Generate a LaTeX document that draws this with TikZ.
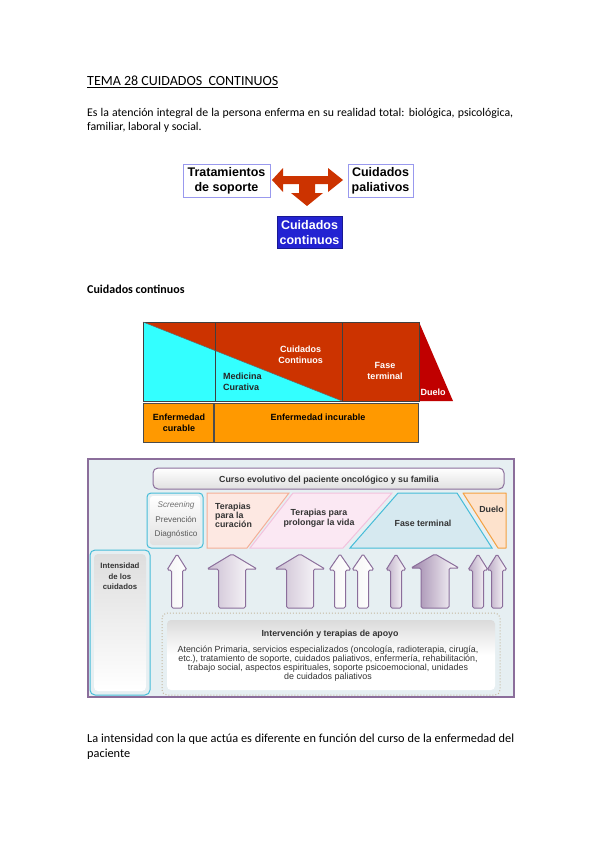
\documentclass[tikz,border=0pt]{standalone}
\usepackage{fontspec}
\setmainfont{Carlito}
\newfontfamily\arialf{Liberation Sans}
\definecolor{redA}{HTML}{CC3300}
\definecolor{boxB}{HTML}{9999EE}
\definecolor{blueC}{HTML}{2323D2}
\definecolor{cyanA}{HTML}{33FFFF}
\definecolor{duelA}{HTML}{C00000}
\definecolor{orA}{HTML}{FF9900}
\definecolor{bgF}{HTML}{E6EFF2}
\definecolor{purF}{HTML}{8B6E9B}
\definecolor{cyF}{HTML}{45BCD8}
\definecolor{salB}{HTML}{F5AE96}
\definecolor{salF}{HTML}{FDE8E2}
\definecolor{pinB}{HTML}{F3C1DD}
\definecolor{pinF}{HTML}{FBE8F3}
\definecolor{ftF}{HTML}{D6E9F0}
\definecolor{duB}{HTML}{F4A040}
\definecolor{duF}{HTML}{FDE2CC}
\definecolor{dotB}{HTML}{C4B79E}
\definecolor{txG}{HTML}{333333}
\tikzset{
  body/.style={font=\fontsize{11.8}{14}\selectfont, inner sep=0pt, anchor=base west},
  fa/.style={font=\arialf\bfseries\fontsize{12.5}{15}\selectfont, inner sep=0pt, align=center},
  fb/.style={font=\arialf\bfseries\fontsize{9}{11}\selectfont, inner sep=0pt, align=center},
  fcb/.style={font=\arialf\bfseries\fontsize{8.8}{9.2}\selectfont, inner sep=0pt, text=txG},
  fcr/.style={font=\arialf\fontsize{8.9}{9.3}\selectfont, inner sep=0pt, text=txG},
  arrw/.style={draw=purF, line width=1pt, rounded corners=1.5pt},
}
\newcommand{\uparrw}[6]{%
  \path[arrw, left color=#6, right color=white]
    (#1,554) -- (#1+#2,#4) -- (#1+#3,#4) -- (#1+#3,608) -- (#1-#3,608)
    -- (#1-#3,#4) -- (#1-#2,#4) -- cycle;}
\begin{document}
\begin{tikzpicture}[x=1pt,y=-1pt]
\path[fill=white] (0,0) rectangle (599,848);
\useasboundingbox (0,0) rectangle (599,848);

% ---------- text ----------
\node[body, font=\fontsize{14}{16}\selectfont] (title) at (87,86) {\underline{TEMA 28 CUIDADOS\ \ CONTINUOS}};
\node[body] (intro1) at (87,117) {\makebox[426pt][s]{Es la atención integral de la persona enferma en su realidad total: biológica, psicológica,}};
\node[body] (intro2) at (87,131) {familiar, laboral y social.};
\node[body, font=\bfseries\fontsize{12}{14}\selectfont] (sub) at (87,293) {Cuidados continuos};
\node[body, font=\fontsize{12.3}{15}\selectfont] (outro1) at (87,742) {\makebox[427pt][s]{La intensidad con la que actúa es diferente en función del curso de la enfermedad del}};
\node[body, font=\fontsize{12.3}{15}\selectfont] (outro2) at (87,757) {paciente};

% ---------- figure 1 ----------
\node[draw=boxB, line width=0.8pt, minimum width=87pt, minimum height=33pt, inner sep=0pt] (trat) at (226.5,180.5) {};
\node[fa] (tratT) at (trat.center) {Tratamientos\\de soporte};
\node[draw=boxB, line width=0.8pt, minimum width=65pt, minimum height=33pt, inner sep=0pt] (pal) at (380.5,180.5) {};
\node[fa] (palT) at (pal.center) {Cuidados\\paliativos};
\node[fill=blueC, draw=blueC!70!black, line width=0.6pt, minimum width=65pt, minimum height=32pt, inner sep=0pt] (cc) at (309.5,232.5) {};
\node[fa, text=white] (ccT) at (cc.center) {Cuidados\\continuos};
\fill[redA] (272,180) -- (283,168) -- (283,176) -- (328,176) -- (328,168) -- (343,180)
  -- (328,192) -- (328,184) -- (315,184) -- (315,193) -- (323,193) -- (307,206)
  -- (291,193) -- (299,193) -- (299,184) -- (283,184) -- (283,192) -- cycle;

% ---------- figure 2 ----------
\fill[redA] (143,322) rectangle (419,401);
\fill[cyanA] (143,322) -- (342,401) -- (143,401) -- cycle;
\fill[duelA] (419,322) -- (453,401) -- (419,401) -- cycle;
\draw[black!75, line width=0.8pt] (143,322) rectangle (419,401);
\draw[black!75, line width=0.8pt] (215,322) -- (215,401) (342,322) -- (342,401);
\draw[black!60, line width=0.5pt] (143,322) -- (342,401);
\node[fb, text=white] (ccont) at (300.5,354.7) {Cuidados\\Continuos};
\node[fb, text=white] (fterm) at (385,370.7) {Fase\\terminal};
\node[fb, align=left, anchor=west, text=black!85] (medc) at (223,382.2) {Medicina\\Curativa};
\node[fb, text=white, anchor=base] (duel) at (433,395) {Duelo};
\node[fill=orA, draw=black!70, line width=0.6pt, minimum width=70pt, minimum height=39pt, inner sep=0pt] (ecur) at (178,422.5) {};
\node[fb] (ecurT) at (179,423) {Enfermedad\\curable};
\node[fill=orA, draw=black!70, line width=0.6pt, minimum width=204pt, minimum height=39pt, inner sep=0pt] (einc) at (316,422.5) {};
\node[fb, anchor=base] (eincT) at (318,420) {Enfermedad incurable};

% ---------- figure 3 ----------
\draw[fill=bgF, draw=purF, line width=1.2pt] (88,459) rectangle (514,697);
\path[draw=purF, line width=1pt, rounded corners=5pt, top color=white, bottom color=black!12] (153,468) rectangle (504,489);
\node[fcb, anchor=base] (curso) at (329,482) {Curso evolutivo del paciente oncológico y su familia};
% screening
\draw[draw=cyF, line width=1pt, rounded corners=4pt, fill=bgF] (147,493) rectangle (203,548);
\path[rounded corners=3pt, top color=white, bottom color=black!12] (150,496) rectangle (200,545);
\node[fcr, anchor=base, text=black!55, font=\arialf\itshape\fontsize{8.2}{9}\selectfont] (scr) at (176,507.7) {Screening};
\node[fcr, anchor=base, text=black!65, font=\arialf\fontsize{8.2}{9}\selectfont] (prev) at (176,522.7) {Prevención};
\node[fcr, anchor=base, text=black!65, font=\arialf\fontsize{8.2}{9}\selectfont] (diag) at (176,536.7) {Diagnóstico};
% phases
\draw[fill=salF, draw=salB, line width=1pt] (207,493) -- (289,493) -- (247,548) -- (207,548) -- cycle;
\node[fcb, align=left, anchor=west] (cur) at (215,515.5) {Terapias\\para la\\curación};
\draw[fill=pinF, draw=pinB, line width=1pt] (293,493) -- (392,493) -- (343,548) -- (250,548) -- cycle;
\node[fcb, align=center, font=\arialf\bfseries\fontsize{8.8}{10}\selectfont] (prol) at (319,518.5) {Terapias para\\prolongar la vida};
\draw[fill=ftF, draw=cyF, line width=1pt] (398,493) -- (457,493) -- (492,548) -- (350,548) -- cycle;
\node[fcb, anchor=base] (ft3) at (423,526.7) {Fase terminal};
\draw[fill=duF, draw=duB, line width=1pt, line join=round] (463,493) -- (506,493) -- (506,548) -- (498,548) -- cycle;
\node[fcb, anchor=base] (du3) at (491.5,512) {Duelo};
% intensidad
\draw[draw=cyF, line width=1pt, rounded corners=5pt, fill=bgF] (90,550) rectangle (150,695);
\path[rounded corners=4pt, top color=black!13, bottom color=white] (94,554) rectangle (146,691);
\node[fcb, align=center, font=\arialf\bfseries\fontsize{7.8}{10.5}\selectfont] (int) at (120,576.5) {Intensidad\\de los\\cuidados};
% arrows
\uparrw{177}{10}{5.5}{570}{}{black!4}
\uparrw{232}{25}{13.5}{569}{}{purF!45}
\uparrw{300}{25}{13.5}{569}{}{purF!45}
\uparrw{340}{11}{5.5}{570}{}{black!4}
\uparrw{363}{11}{5.5}{570}{}{black!4}
\uparrw{396}{10}{5.5}{570}{}{purF!55}
\uparrw{435}{24}{14}{568}{}{purF!85}
\uparrw{478}{10}{5.5}{570}{}{purF!60}
\uparrw{497}{10}{5.5}{570}{}{purF!60}
% intervención
\draw[draw=dotB, line width=1pt, dotted, rounded corners=5pt] (162,613) rectangle (500,695);
\path[rounded corners=4pt, top color=black!14, bottom color=white, middle color=white] (167,620) rectangle (495,690);
\node[fcb, anchor=base] (ivt) at (330,636) {Intervención y terapias de apoyo};
\node[fcr, align=center] (ivb) at (328,663.6) {Atención Primaria, servicios especializados (oncología, radioterapia, cirugía,\\etc.), tratamiento de soporte, cuidados paliativos, enfermería, rehabilitación,\\trabajo social, aspectos espirituales, soporte psicoemocional, unidades\\de cuidados paliativos};
\end{tikzpicture}
\end{document}
